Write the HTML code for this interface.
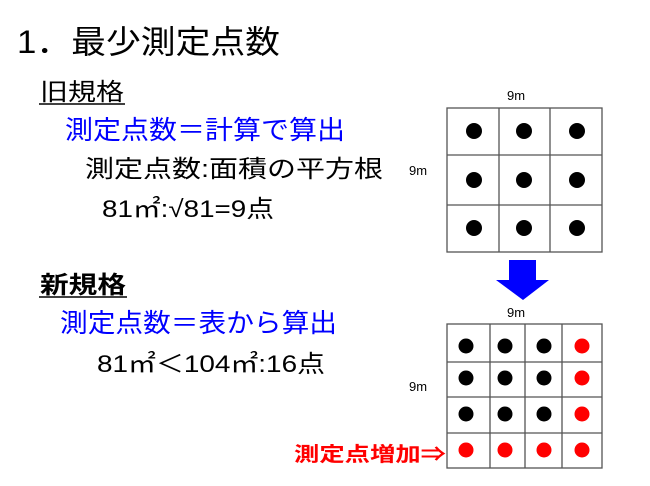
<!DOCTYPE html>
<html><head><meta charset="utf-8"><style>
body{margin:0;background:#fff;width:650px;height:486px;overflow:hidden}
svg{display:block}
text{font-family:"Liberation Sans","Noto Sans CJK JP",sans-serif}
</style></head><body>
<svg width="650" height="486" viewBox="0 0 650 486">
<text x="17" y="53" font-size="32" textLength="263" lengthAdjust="spacingAndGlyphs">1．最少測定点数</text>
<text x="40" y="100" font-size="24" textLength="84" lengthAdjust="spacingAndGlyphs">旧規格</text>
<line x1="39" y1="104" x2="125" y2="104" stroke="#000" stroke-width="1.5"/>
<text x="65" y="139" font-size="26" fill="#0000ff" textLength="280" lengthAdjust="spacingAndGlyphs">測定点数＝計算で算出</text>
<text x="85" y="177" font-size="24" textLength="298" lengthAdjust="spacingAndGlyphs">測定点数:面積の平方根</text>
<text x="102" y="217" font-size="24" textLength="172" lengthAdjust="spacingAndGlyphs">81㎡:√81=9点</text>
<text x="40" y="293" font-size="24" font-weight="bold" textLength="86" lengthAdjust="spacingAndGlyphs">新規格</text>
<line x1="39" y1="297" x2="127" y2="297" stroke="#000" stroke-width="1.5"/>
<text x="60" y="332" font-size="26" fill="#0000ff" textLength="277" lengthAdjust="spacingAndGlyphs">測定点数＝表から算出</text>
<text x="97" y="372" font-size="24" textLength="228" lengthAdjust="spacingAndGlyphs">81㎡＜104㎡:16点</text>
<text x="294" y="461" font-size="20" font-weight="bold" fill="#ff0000" textLength="152" lengthAdjust="spacingAndGlyphs">測定点増加⇒</text>

<g font-size="13">
<text x="507" y="100">9m</text>
<text x="409" y="175">9m</text>
<text x="507" y="317">9m</text>
<text x="409" y="391">9m</text>
</g>
<g fill="none" stroke="#555" stroke-width="1.3">
<rect x="447" y="108" width="155" height="144"/>
<line x1="499" y1="108" x2="499" y2="252"/><line x1="550" y1="108" x2="550" y2="252"/>
<line x1="447" y1="155" x2="602" y2="155"/><line x1="447" y1="205" x2="602" y2="205"/>
<rect x="447" y="324" width="155" height="144"/>
<line x1="490" y1="324" x2="490" y2="468"/><line x1="525" y1="324" x2="525" y2="468"/><line x1="562" y1="324" x2="562" y2="468"/>
<line x1="447" y1="362" x2="602" y2="362"/><line x1="447" y1="397" x2="602" y2="397"/><line x1="447" y1="433" x2="602" y2="433"/>
</g>
<g fill="#000">
<circle cx="474" cy="131" r="8"/><circle cx="524" cy="131" r="8"/><circle cx="577" cy="131" r="8"/>
<circle cx="474" cy="180" r="8"/><circle cx="524" cy="180" r="8"/><circle cx="577" cy="180" r="8"/>
<circle cx="474" cy="228" r="8"/><circle cx="524" cy="228" r="8"/><circle cx="577" cy="228" r="8"/>
<circle cx="466" cy="346" r="7.5"/><circle cx="505" cy="346" r="7.5"/><circle cx="544" cy="346" r="7.5"/>
<circle cx="466" cy="378" r="7.5"/><circle cx="505" cy="378" r="7.5"/><circle cx="544" cy="378" r="7.5"/>
<circle cx="466" cy="414" r="7.5"/><circle cx="505" cy="414" r="7.5"/><circle cx="544" cy="414" r="7.5"/>
</g>
<g fill="#ff0000">
<circle cx="582" cy="346" r="7.5"/><circle cx="582" cy="378" r="7.5"/><circle cx="582" cy="414" r="7.5"/>
<circle cx="466" cy="450" r="7.5"/><circle cx="505" cy="450" r="7.5"/><circle cx="544" cy="450" r="7.5"/><circle cx="582" cy="450" r="7.5"/>
</g>
<polygon points="509,260 536,260 536,280 549,280 523,300 496,280 509,280" fill="#0000ff"/>
</svg>
</body></html>
